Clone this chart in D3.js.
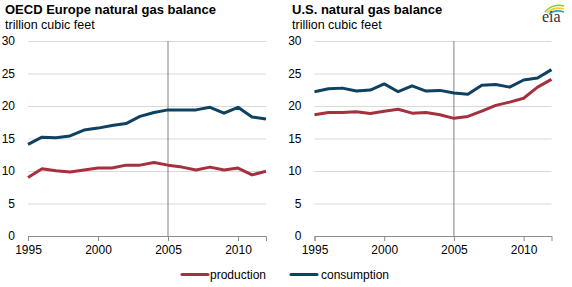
<!DOCTYPE html>
<html>
<head>
<meta charset="utf-8">
<script src="https://cdn.jsdelivr.net/npm/d3@7"></script>
<style>
    body { margin: 0; background: #fff; }
    svg { display: block; font-family: "Liberation Sans", Arial, sans-serif; }
</style>
</head>
<body>
<div id="chart"></div>
<script>

const years = [1995, 1996, 1997, 1998, 1999, 2000, 2001, 2002, 2003, 2004, 2005, 2006, 2007, 2008, 2009, 2010, 2011, 2012];

const euProduction = [9.0, 10.35, 10.05, 9.85, 10.15, 10.45, 10.45, 10.9, 10.9, 11.3, 10.9, 10.6, 10.15, 10.6, 10.15, 10.45, 9.4, 9.95];
const euConsumption = [14.1, 15.2, 15.1, 15.4, 16.3, 16.6, 17.0, 17.3, 18.4, 19.0, 19.4, 19.4, 19.4, 19.8, 18.9, 19.8, 18.3, 18.0];

const usProduction = [18.65, 19.0, 19.0, 19.1, 18.85, 19.2, 19.5, 18.9, 19.0, 18.65, 18.1, 18.4, 19.2, 20.1, 20.6, 21.2, 22.9, 24.1];
const usConsumption = [22.2, 22.65, 22.75, 22.3, 22.45, 23.4, 22.2, 23.1, 22.3, 22.4, 22.0, 21.8, 23.2, 23.3, 22.9, 24.0, 24.3, 25.6];

const xTicks = [1995, 2000, 2005, 2010];
const yTicks = [0, 5, 10, 15, 20, 25, 30];
const markerYear = 2005;

const panelTitles = ["OECD Europe natural gas balance", "U.S. natural gas balance"];
const unitLabel = "trillion cubic feet";
const seriesNames = ["production", "consumption"];
const seriesColors = ["#a5313f", "#0f4260"];

const W = 572, H = 287;

const svg = d3.select("#chart").append("svg")
    .attr("width", W)
    .attr("height", H);

// two panels side by side
const panels = [
    { left: 28, right: 266, titleX: 5, prod: euProduction, cons: euConsumption },
    { left: 314.5, right: 551.5, titleX: 292, prod: usProduction, cons: usConsumption }
];

let y = d3.scaleLinear()
    .domain([0, 30])
    .range([236, 41]);

panels.forEach((p, i) => {
    let g = svg.append("g");

    let x = d3.scaleLinear()
        .domain([years[0], years[years.length - 1]])
        .range([p.left, p.right]);

    // titles
    g.append("text")
        .attr("x", p.titleX)
        .attr("y", 14)
        .style("font-size", "13px")
        .style("font-weight", "bold")
        .attr("fill", "#000")
        .text(panelTitles[i]);

    g.append("text")
        .attr("x", p.titleX)
        .attr("y", 29)
        .style("font-size", "12.5px")
        .attr("fill", "#000")
        .text(unitLabel);

    // gridlines + y labels
    let yAxis = d3.axisLeft(y)
        .tickValues(yTicks)
        .tickSize(-(p.right - p.left))
        .tickPadding(13)
        .tickFormat(d3.format("d"));

    let ya = g.append("g")
        .attr("transform", "translate(" + p.left + ",0)")
        .call(yAxis);
    ya.select(".domain").remove();
    ya.selectAll("line")
        .attr("stroke", d => d === 0 ? "none" : "#d9d9d9");
    ya.selectAll("text")
        .style("font-size", "12px")
        .attr("fill", "#000");

    // x axis
    let xAxis = d3.axisBottom(x)
        .tickValues(xTicks)
        .tickSizeOuter(0)
        .tickSize(5)
        .tickPadding(4)
        .tickFormat(d3.format("d"));

    let xa = g.append("g")
        .attr("transform", "translate(0," + y(0) + ")")
        .call(xAxis);
    xa.select(".domain").attr("stroke", "#8c8c8c");
    xa.selectAll("line").attr("stroke", "#8c8c8c");
    xa.selectAll("text")
        .style("font-size", "12px")
        .attr("fill", "#000");

    // 2005 marker
    g.append("line")
        .attr("x1", x(markerYear))
        .attr("x2", x(markerYear))
        .attr("y1", y(30))
        .attr("y2", y(0))
        .attr("stroke", "#808080")
        .attr("stroke-width", 1);

    const line = d3.line()
        .x((d, j) => x(years[j]))
        .y(d => y(d));

    [p.prod, p.cons].forEach((series, k) => {
        g.append("path")
            .attr("d", line(series))
            .attr("fill", "none")
            .attr("stroke", seriesColors[k])
            .attr("stroke-width", 3)
            .attr("stroke-linejoin", "round");
    });
});

// legend
const legendPos = [{ x: 182, tx: 210 }, { x: 291, tx: 321 }];
seriesNames.forEach((name, k) => {
    svg.append("line")
        .attr("x1", legendPos[k].x)
        .attr("x2", legendPos[k].x + 26)
        .attr("y1", 274.5)
        .attr("y2", 274.5)
        .attr("stroke", seriesColors[k])
        .attr("stroke-width", 3)
        .attr("stroke-linecap", "round");
    svg.append("text")
        .attr("x", legendPos[k].tx)
        .attr("y", 279)
        .style("font-size", "12px")
        .attr("fill", "#000")
        .text(name);
});

// eia logo
let logo = svg.append("g").attr("transform", "translate(541,0)");
logo.append("path").attr("d", "M4,12 Q12,3 23,6").attr("fill", "none").attr("stroke", "#8cc63f").attr("stroke-width", 1.6);
logo.append("path").attr("d", "M6,13 Q13,6 23,9").attr("fill", "none").attr("stroke", "#f7d117").attr("stroke-width", 1.6);
logo.append("path").attr("d", "M8,14 Q14,9 23,12").attr("fill", "none").attr("stroke", "#2f9fd8").attr("stroke-width", 1.6);
logo.append("text")
    .attr("x", 1)
    .attr("y", 22)
    .style("font-family", "'Liberation Serif', serif")
    .style("font-size", "16px")
    .attr("fill", "#333")
    .text("eia");

</script>
</body>
</html>
